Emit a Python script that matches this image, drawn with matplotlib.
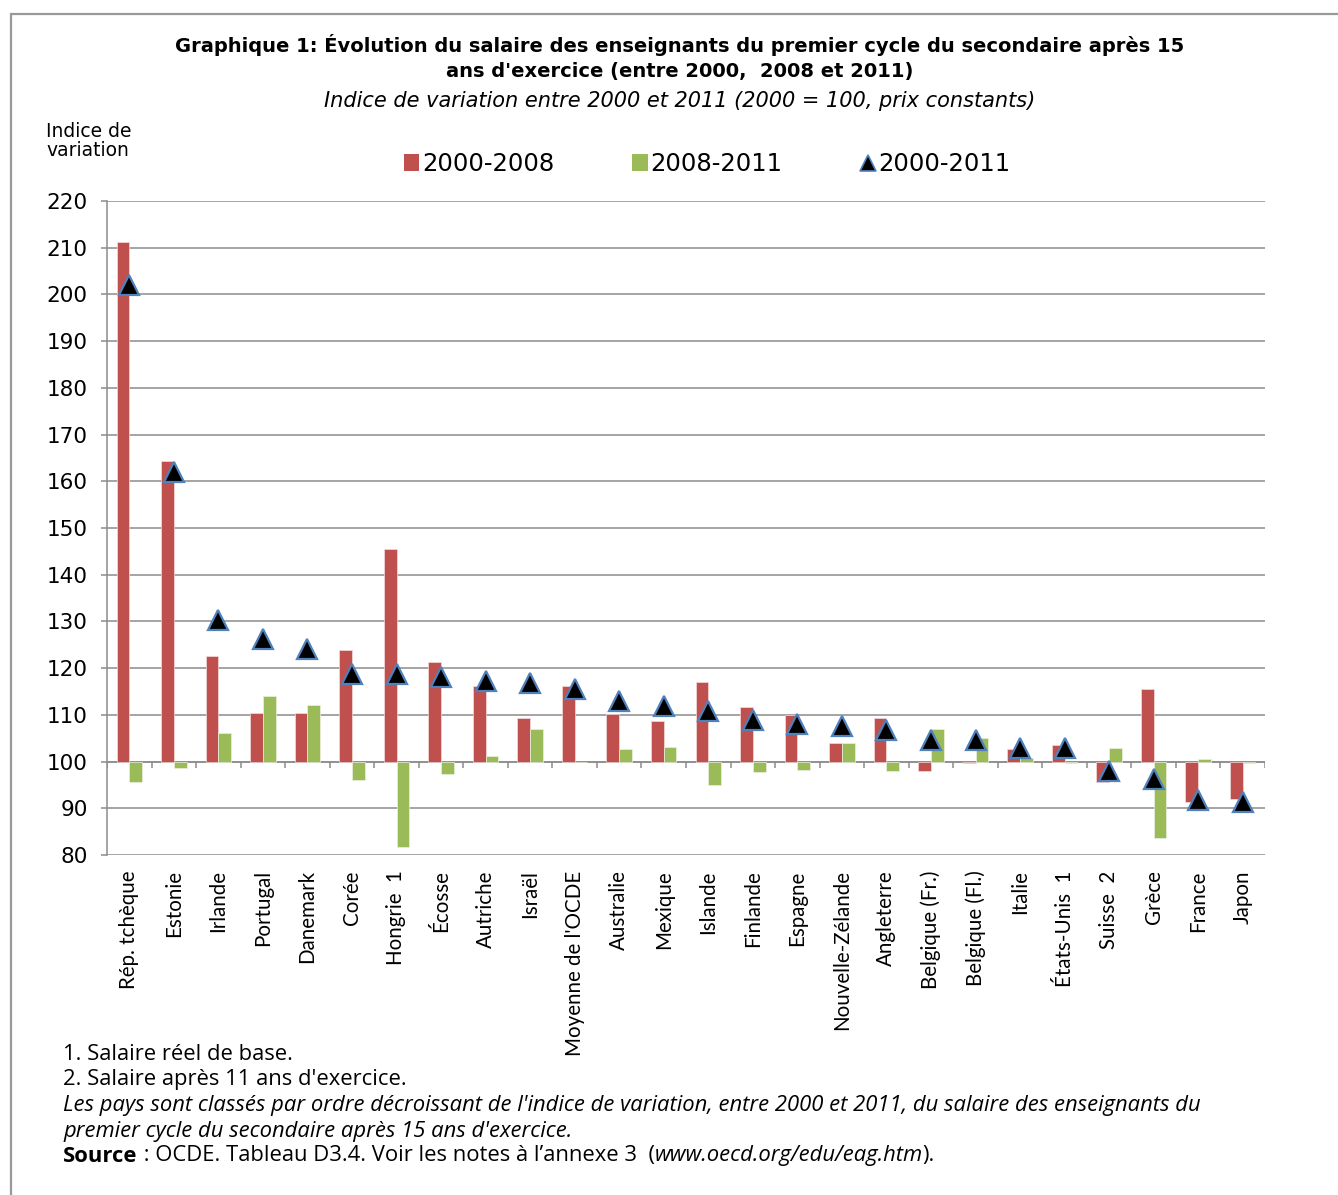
from matplotlib import pyplot as plt
from matplotlib.lines import Line2D
from matplotlib.patches import Patch, Rectangle
import numpy as np

countries = ['Rép. tchèque', 'Estonie', 'Irlande', 'Portugal', 'Danemark', 'Corée',
             'Hongrie  1', 'Écosse', 'Autriche', 'Israël', "Moyenne de l'OCDE",
             'Australie', 'Mexique', 'Islande', 'Finlande', 'Espagne',
             'Nouvelle-Zélande', 'Angleterre', 'Belgique (Fr.)', 'Belgique (Fl.)',
             'Italie', 'États-Unis  1', 'Suisse  2', 'Grèce', 'France', 'Japon']

# index values (2000 = 100)
v2000_2008 = [211.3, 164.3, 122.7, 110.5, 110.5, 123.8, 145.4, 121.4, 116.1, 109.3,
              116.1, 110.2, 108.6, 117.1, 111.7, 110.0, 104.0, 109.3, 98.0, 99.7,
              102.7, 103.6, 95.6, 115.5, 91.4, 92.0]
v2008_2011 = [95.7, 98.6, 106.2, 114.1, 112.2, 96.0, 81.8, 97.4, 101.2, 106.9,
              100.0, 102.7, 103.2, 95.0, 97.7, 98.3, 104.0, 98.0, 107.0, 105.0,
              100.8, 99.7, 102.8, 83.6, 100.5, 99.6]
v2000_2011 = [202.0, 161.9, 130.4, 126.3, 124.2, 118.8, 118.8, 118.0, 117.3, 116.8,
              115.5, 113.0, 111.8, 110.9, 109.0, 108.0, 107.7, 106.8, 104.6, 104.6,
              103.0, 102.8, 97.9, 96.2, 91.8, 91.3]
yticks = list(range(80, 221, 10))

red = '#C0504D'
green = '#9BBB59'
blue = '#4F81BD'
grey = '#8C8C8C'

W, H = 1338, 1195
fig = plt.figure(figsize=(W / 100, H / 100), dpi=100)
ax = fig.add_axes([107 / W, 1 - 855 / H, (1265 - 107) / W, (855 - 201) / H])

x = np.arange(len(countries))
bw = 0.285
base = 100
ax.bar(x - bw / 2, np.array(v2000_2008) - base, bw, bottom=base, color=red,
       edgecolor='#F2DCDB', linewidth=0.5, zorder=3)
ax.bar(x + bw / 2, np.array(v2008_2011) - base, bw, bottom=base, color=green,
       edgecolor='#EBF1DE', linewidth=0.5, zorder=3)
ax.plot(x, v2000_2011, linestyle='none', marker='^', markersize=14,
        markerfacecolor='black', markeredgecolor=blue, markeredgewidth=1.6, zorder=4)

ax.set_xlim(-0.5, len(countries) - 0.5)
ax.set_ylim(80, 220)
ax.set_yticks(yticks)
ax.yaxis.grid(True, color=grey, linewidth=1.1, zorder=0)
ax.set_axisbelow(True)
for s in ['top', 'right', 'bottom']:
    ax.spines[s].set_visible(False)
ax.spines['left'].set_color(grey)
ax.spines['left'].set_linewidth(1.1)
ax.tick_params(axis='y', direction='out', length=4, width=1.1, color=grey,
               pad=10, labelsize=15.5)

# category axis crossing at 100 with ticks between the groups
ax.axhline(base, color=grey, linewidth=1.1, zorder=2)
bounds = np.arange(len(countries) + 1) - 0.5
ax.vlines(bounds, base - 1.3, base, color=grey, linewidth=1.1, zorder=2)

ax.set_xticks(x)
ax.set_xticklabels(countries, rotation=90, family='Lato', fontsize=14.8)
ax.tick_params(axis='x', length=0, pad=11)

# legend
handles = [Patch(facecolor=red), Patch(facecolor=green),
           Line2D([], [], linestyle='none', marker='^', markersize=11,
                  markerfacecolor='black', markeredgecolor=blue, markeredgewidth=1.2)]
fig.legend(handles, ['2000-2008', '2008-2011', '2000-2011'], ncol=3,
           loc='center', bbox_to_anchor=(707 / W, 1 - 164 / H), frameon=False,
           fontsize=17.5, handlelength=0.65, handleheight=0.65, handletextpad=0.1,
           columnspacing=3.2)

# titles
fig.text(680 / W, 1 - 45 / H,
         'Graphique 1: Évolution du salaire des enseignants du premier cycle du secondaire après 15',
         ha='center', va='center', fontsize=14, fontweight='bold')
fig.text(680 / W, 1 - 72 / H, "ans d'exercice (entre 2000,  2008 et 2011)",
         ha='center', va='center', fontsize=14, fontweight='bold')
fig.text(680 / W, 1 - 101 / H,
         'Indice de variation entre 2000 et 2011 (2000 = 100, prix constants)',
         ha='center', va='center', fontsize=15, style='italic')
fig.text(46 / W, 1 - 141 / H, 'Indice de\nvariation', ha='left', va='center',
         fontsize=13.5, linespacing=1.0)

# footnotes
fn = dict(family='Open Sans', fontsize=15.8, ha='left', va='center')
fig.text(63 / W, 1 - 1055 / H, '1. Salaire réel de base.', **fn)
fig.text(63 / W, 1 - 1080 / H, "2. Salaire après 11 ans d'exercice.", **fn)
fig.text(63 / W, 1 - 1106 / H,
         "Les pays sont classés par ordre décroissant de l'indice de variation, entre 2000 et 2011, du salaire des enseignants du",
         style='italic', **fn)
fig.text(63 / W, 1 - 1131 / H, "premier cycle du secondaire après 15 ans d'exercice.",
         style='italic', **fn)

fig.canvas.draw()
renderer = fig.canvas.get_renderer()
xpos = 63 / W
pieces = [('Source', dict(fontweight='bold')),
          (' : OCDE. Tableau D3.4. Voir les notes à l’annexe 3  (', {}),
          ('www.oecd.org/edu/eag.htm', dict(style='italic')),
          (').', {})]
for txt, kw in pieces:
    t = fig.text(xpos, 1 - 1156 / H, txt, **fn, **kw)
    bb = t.get_window_extent(renderer)
    xpos = bb.x1 / W

# outer frame
fig.patches.append(Rectangle((11 / W, -0.1), 1.5, 1.1 - 14 / H, transform=fig.transFigure,
                             fill=False, edgecolor='#999999', linewidth=1.6))

fig.savefig('out.png', dpi=100)
